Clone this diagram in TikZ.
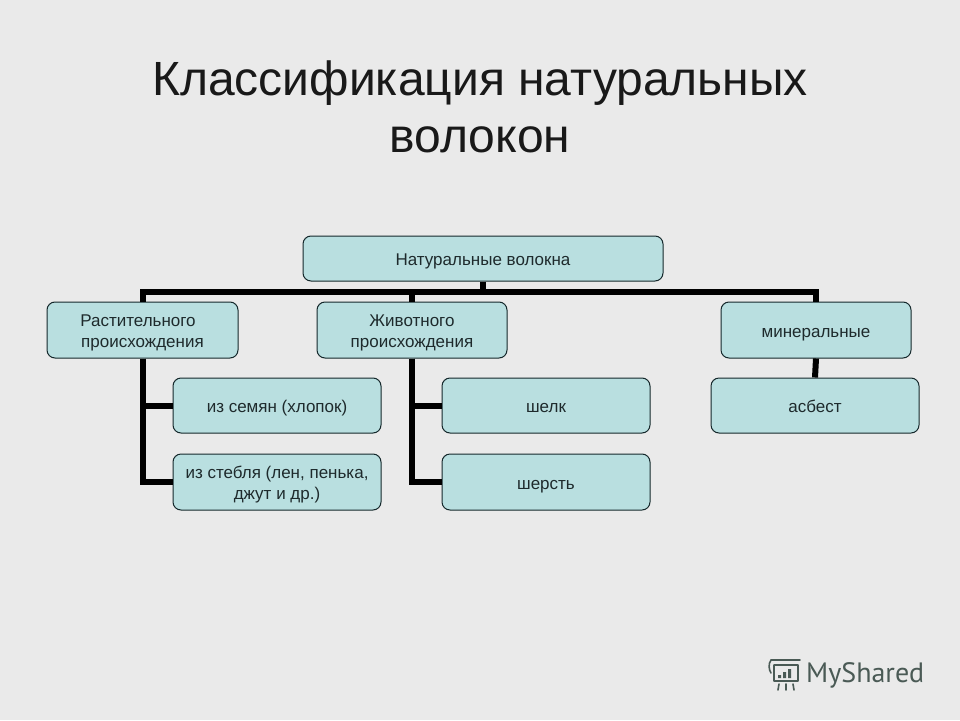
\documentclass[tikz,border=0pt]{standalone}
\usepackage{fontspec}
\setmainfont{Liberation Sans}
\newfontfamily\logofont{PT Sans}
\definecolor{bgc}{HTML}{EAEAEA}
\definecolor{boxc}{HTML}{B9DFE0}
\definecolor{edgec}{HTML}{15282B}
\definecolor{txtc}{HTML}{1E2A2C}
\definecolor{logoc}{HTML}{4A5A55}
\newcommand{\oneline}{\rule[-4pt]{0pt}{22pt}}
\newcommand{\twoline}{\rule{0pt}{16.6pt}}
\begin{document}
\begin{tikzpicture}[x=1pt,y=-1pt,
  box/.style={draw=edgec,line width=1pt,fill=boxc,rounded corners=8pt,align=center,inner sep=0pt,
    text=txtc,font=\fontsize{17}{21}\selectfont,minimum width=#1},
  box/.default=190pt,
  link/.style={line width=6pt,draw=black},
  titletext/.style={font=\fontsize{48}{57}\selectfont,align=center,text=black!90,inner sep=0pt},
  logoline/.style={draw=logoc,line width=1.6pt,line cap=round,line join=round}]
\useasboundingbox (0,0) rectangle (960,720);
\fill[bgc] (0,0) rectangle (960,720);
\node[titletext] (title) at (480,106.5) {Классификация натуральных\\волокон};
\coordinate (bus) at (483,292);
\node[box=360pt,minimum height=45pt] (root) at (483,258.5) {\oneline Натуральные волокна};
\node[box=191pt,minimum height=56pt] (rast) at (142.5,330) {\twoline Растительного\hspace{9pt}\mbox{}\\происхождения};
\node[box=190pt,minimum height=56pt] (zhiv) at (412,330) {\twoline Животного\\происхождения};
\node[box=190pt,minimum height=56pt] (minr) at (816,330) {\oneline минеральные};
\node[box=208pt,minimum height=55pt] (sem) at (277,405.5) {\oneline из семян (хлопок)};
\node[box=208pt,minimum height=56pt] (steb) at (277,482) {\twoline из стебля (лен, пенька,\\джут и др.)};
\node[box=208pt,minimum height=55pt] (shelk) at (546,405.5) {\oneline шелк};
\node[box=208pt,minimum height=56pt] (sherst) at (546,482) {\oneline шерсть};
\node[box=208pt,minimum height=55pt] (asb) at (815,405.5) {\oneline асбест};
\draw[link] (root.south) -- (bus);
\draw[link] (bus) -| (rast.north);
\draw[link] (bus) -| (zhiv.north);
\draw[link] (bus) -| (minr.north);
\draw[link] (rast.south) |- (sem.west);
\draw[link] (rast.south) |- (steb.west);
\draw[link] (zhiv.south) |- (shelk.west);
\draw[link] (zhiv.south) |- (sherst.west);
\draw[link] (minr.south) -- (asb.north);
\node[font=\logofont\fontsize{28}{28}\selectfont,text=logoc,anchor=west,inner sep=0pt] (logo) at (806,675) {MyShared};
\draw[logoline] (771,660) -- (800,660) (774,665) -- (798,665) -- (798,681) -- (774,681) -- (774,665);
\draw[logoline] (771,660) .. controls (768,664) and (769,670) .. (771,673);
\fill[logoc] (778,675) rectangle (781,678) (783,672) rectangle (786,678) (788,669) rectangle (791,678);
\draw[logoline] (779,684) -- (778,690) (786,684) -- (786,690) (793,684) -- (794,690);
\end{tikzpicture}
\end{document}
